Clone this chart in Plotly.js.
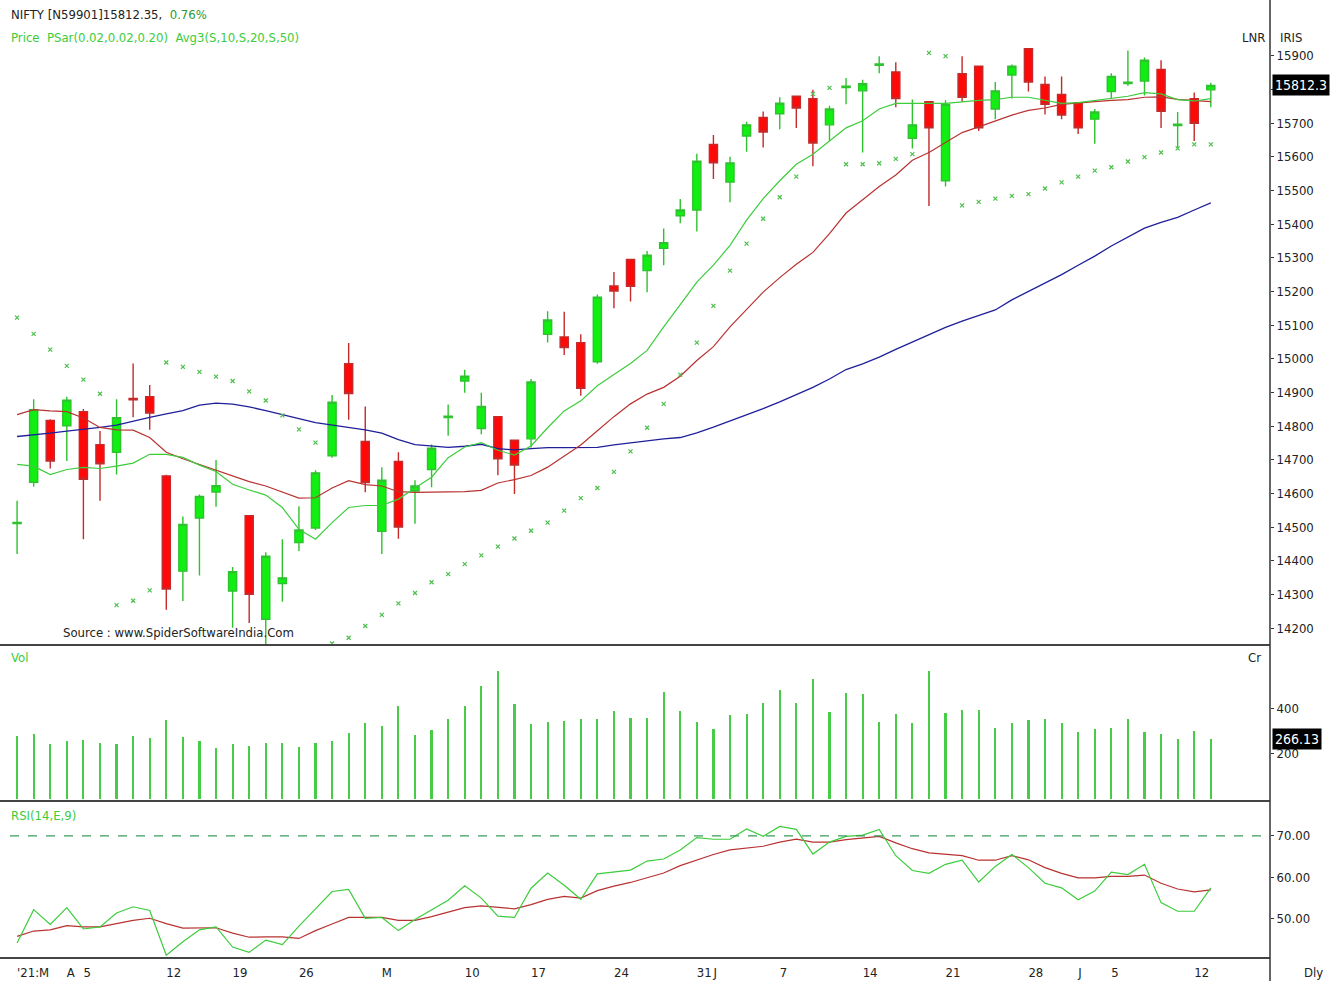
<!DOCTYPE html>
<html>
<head>
<meta charset="utf-8">
<script src="https://cdn.plot.ly/plotly-3.0.1.min.js"></script>
<style>html,body{margin:0;padding:0;background:#fff;}#chart{width:1332px;height:981px;}</style>
</head>
<body>
<div id="chart"></div>
<script>
// ---- data (NIFTY daily, 26 Mar 2021 - 13 Jul 2021) ----
const dates = ["2021-03-26","2021-03-30","2021-03-31","2021-04-01","2021-04-05","2021-04-06","2021-04-07","2021-04-08","2021-04-09",
"2021-04-12","2021-04-13","2021-04-15","2021-04-16","2021-04-19","2021-04-20","2021-04-22","2021-04-23","2021-04-26","2021-04-27",
"2021-04-28","2021-04-29","2021-04-30","2021-05-03","2021-05-04","2021-05-05","2021-05-06","2021-05-07","2021-05-10","2021-05-11",
"2021-05-12","2021-05-14","2021-05-17","2021-05-18","2021-05-19","2021-05-20","2021-05-21","2021-05-24","2021-05-25","2021-05-26",
"2021-05-27","2021-05-28","2021-05-31","2021-06-01","2021-06-02","2021-06-03","2021-06-04","2021-06-07","2021-06-08","2021-06-09",
"2021-06-10","2021-06-11","2021-06-14","2021-06-15","2021-06-16","2021-06-17","2021-06-18","2021-06-21","2021-06-22","2021-06-23",
"2021-06-24","2021-06-25","2021-06-28","2021-06-29","2021-06-30","2021-07-01","2021-07-02","2021-07-05","2021-07-06","2021-07-07",
"2021-07-08","2021-07-09","2021-07-12","2021-07-13"];

const open = [14510,14633,14817,14801,14843,14745,14722,14882,14887,14652,14369,14527,14604,14310,14534,14226,14332,14454,14497,
14712,14985,14754,14487,14695,14607,14671,14825,14934,14793,14828,14758,14762,15073,15065,15048,14991,15216,15295,15262,15328,
15425,15442,15637,15525,15662,15717,15728,15780,15773,15695,15806,15796,15872,15852,15655,15764,15529,15847,15869,15742,15843,
15921,15815,15785,15761,15712,15794,15818,15825,15860,15693,15773,15799];
const high = [14578,14880,14820,14887,14851,14785,14880,14986,14922,14655,14531,14597,14699,14381,14536,14425,14464,14562,14669,
14892,15047,14858,14678,14722,14639,14745,14864,14967,14899,14830,14760,14940,15141,15140,15073,15191,15258,15297,15320,15387,
15475,15609,15665,15600,15704,15735,15777,15782,15799,15752,15834,15829,15899,15881,15770,15766,15768,15899,15871,15822,15874,
15923,15839,15839,15763,15742,15848,15916,15895,15887,15733,15791,15820];
const low = [14420,14620,14674,14696,14464,14578,14656,14826,14789,14254,14280,14356,14560,14201,14215,14152,14278,14429,14491,
14706,14819,14603,14420,14465,14510,14618,14771,14899,14776,14654,14598,14736,15048,15011,14890,14985,15150,15170,15198,15278,
15403,15378,15534,15465,15615,15628,15682,15686,15572,15647,15756,15613,15848,15747,15625,15454,15512,15764,15677,15712,15773,
15794,15726,15712,15668,15639,15773,15811,15782,15686,15625,15647,15747];
const close = [14514,14849,14696,14877,14642,14688,14825,14878,14839,14316,14508,14591,14623,14367,14300,14413,14349,14491,14661,
14871,14897,14632,14639,14500,14622,14734,14829,14948,14858,14703,14684,14931,15115,15033,14912,15183,15201,15215,15308,15345,
15442,15587,15582,15582,15695,15674,15759,15745,15641,15742,15810,15817,15876,15773,15695,15686,15756,15777,15686,15796,15869,
15822,15756,15724,15686,15733,15839,15822,15887,15735,15697,15700,15812.35];

const sma10 = [14686,14681,14656,14671,14677,14674,14681,14690,14716,14716,14707,14684,14665,14627,14610,14595,14558,14493,14464,
14513,14558,14564,14564,14583,14616,14648,14706,14738,14751,14728,14714,14741,14795,14845,14875,14920,14953,14986,15025,15095,
15161,15228,15278,15337,15412,15476,15529,15578,15608,15647,15686,15707,15742,15759,15759,15759,15759,15763,15768,15770,15777,
15777,15768,15759,15761,15768,15773,15780,15791,15787,15770,15766,15773];
const sma20 = [14834,14849,14845,14843,14824,14796,14789,14788,14766,14722,14703,14686,14671,14652,14635,14622,14603,14586,14587,
14616,14638,14626,14622,14605,14603,14603,14603,14605,14609,14631,14641,14653,14678,14711,14744,14786,14828,14866,14895,14915,
14948,14995,15036,15095,15145,15198,15241,15281,15316,15372,15433,15473,15512,15546,15590,15613,15642,15672,15689,15707,15724,
15738,15745,15756,15761,15764,15768,15770,15777,15778,15771,15768,15764];
const sma50 = [14769,14773,14779,14785,14790,14796,14803,14815,14826,14836,14846,14862,14868,14865,14857,14846,14833,14822,14810,
14803,14796,14789,14779,14760,14745,14740,14737,14740,14746,14733,14729,14733,14736,14736,14736,14737,14744,14750,14757,14762,
14766,14780,14797,14815,14832,14852,14872,14894,14915,14940,14968,14985,15005,15028,15050,15072,15093,15112,15128,15145,15175,
15200,15224,15250,15278,15305,15335,15362,15388,15405,15420,15442,15463];
const psar = [15122,15074,15027,14979,14938,14896,14268,14281,14312,14989,14976,14961,14947,14934,14903,14876,14832,14790,14751,
14154,14171,14206,14239,14273,14304,14336,14360,14390,14416,14442,14466,14489,14513,14549,14586,14616,14664,14725,14795,14866,
14953,15048,15157,15262,15342,15416,15480,15541,15787,15805,15578,15578,15581,15594,15608,15909,15899,15456,15466,15476,15484,
15489,15506,15524,15541,15559,15569,15586,15599,15613,15625,15637,15637];

const volume = [280,286,243,256,262,249,243,280,268,350,276,256,224,243,236,249,249,230,249,256,293,336,324,413,283,306,356,412,
501,568,422,332,340,345,352,352,390,357,357,472,390,340,308,370,377,426,484,426,530,387,470,465,342,374,335,569,379,395,395,314,
335,348,355,335,296,308,314,355,296,288,264,301,266.13];

const rsi = [44.0,52.1,48.5,52.6,47.4,47.9,51.3,52.8,51.9,41.0,44.3,47.2,47.9,43.0,41.7,44.7,43.6,48.1,52.3,56.5,57.0,50.0,50.2,
47.0,49.7,52.1,54.4,57.9,54.9,50.5,50.2,57.3,61.0,58.0,54.6,60.8,61.2,61.7,63.9,64.4,66.6,69.6,69.2,69.2,71.7,69.9,72.3,71.6,
65.6,68.5,69.9,70.2,71.6,65.2,61.6,60.9,63.1,64.1,58.8,62.6,65.5,62.3,58.5,57.4,54.5,56.6,61.2,60.6,63.1,53.8,51.7,51.7,57.4];
const rsiSignal = [45.6,46.9,47.2,48.2,47.9,47.9,48.7,49.5,50.0,48.7,47.6,47.6,47.7,46.4,45.4,45.5,45.5,45.1,47.0,48.6,50.2,50.2,
50.2,49.5,49.5,50.4,51.5,52.6,53.0,52.6,52.3,53.3,54.6,55.3,54.9,56.7,57.8,58.7,59.8,61.0,62.8,64.2,65.5,66.6,67.0,67.5,68.5,
69.2,68.5,68.5,69.1,69.5,69.9,68.3,66.9,65.9,65.6,65.2,64.1,64.1,65.2,64.2,62.3,60.9,59.8,59.8,60.2,60.2,60.5,58.5,57.1,56.4,56.9];

const xTickDates = ["2021-03-26","2021-04-01","2021-04-05","2021-04-12","2021-04-19","2021-04-26","2021-05-03","2021-05-10",
"2021-05-17","2021-05-24","2021-05-31","2021-06-01","2021-06-07","2021-06-14","2021-06-21","2021-06-28","2021-07-01","2021-07-05","2021-07-12"];
const xTickText = ["'21:M","A","5","12","19","26","M","10","17","24","31","J","7","14","21","28","J","5","12"];
const priceTicks = [14200,14300,14400,14500,14600,14700,14800,14900,15000,15100,15200,15300,15400,15500,15600,15700,15800,15900];
const priceTickText = ["14200","14300","14400","14500","14600","14700","14800","14900","15000","15100","15200","15300","15400","15500","15600","15700","","15900"];
const volTicks = [200,400];
const rsiTicks = [50,60,70];

// ---- drawing ----
const FONT = "DejaVu Sans Condensed, Liberation Sans Narrow, sans-serif";
const FS = 13;
const W = 1270, H = 958; // plot area in px
const px = v => v / W;
const py = v => (H - v) / H;

const traces = [
  {type:'candlestick', x:dates, open:open, high:high, low:low, close:close, xaxis:'x', yaxis:'y',
   increasing:{line:{color:'#2ec22e', width:1.4}, fillcolor:'#11ee11'},
   decreasing:{line:{color:'#c42a2a', width:1.4}, fillcolor:'#ff0808'},
   whiskerwidth:0, hoverinfo:'skip'},
  {type:'scatter', mode:'lines', x:dates, y:sma50, line:{color:'#1f1f9a', width:1.3}, yaxis:'y', hoverinfo:'skip'},
  {type:'scatter', mode:'lines', x:dates, y:sma20, line:{color:'#b83232', width:1.2}, yaxis:'y', hoverinfo:'skip'},
  {type:'scatter', mode:'lines', x:dates, y:sma10, line:{color:'#3ccc3c', width:1.2}, yaxis:'y', hoverinfo:'skip'},
  {type:'scatter', mode:'markers', x:dates, y:psar, marker:{symbol:'x-thin-open', size:4, line:{color:'#4cbf4c', width:1.2}, color:'#4cbf4c'}, yaxis:'y', hoverinfo:'skip'},
  {type:'bar', x:dates, y:volume, width:0.13, marker:{color:'#46cc46', line:{width:0}}, yaxis:'y2', hoverinfo:'skip'},
  {type:'scatter', mode:'lines', x:dates, y:rsiSignal, line:{color:'#b83232', width:1.2}, yaxis:'y3', hoverinfo:'skip'},
  {type:'scatter', mode:'lines', x:dates, y:rsi, line:{color:'#3ccc3c', width:1.2}, yaxis:'y3', hoverinfo:'skip'}
];

const yCommon = {side:'right', showgrid:false, zeroline:false, showline:false, ticks:'outside', ticklen:3, tickcolor:'#333',
  tickfont:{family:FONT, size:FS, color:'#222'}, fixedrange:true, anchor:'x', tickangle:0};

const sepLine = y => ({type:'line', xref:'paper', yref:'paper', x0:0, x1:1, y0:y, y1:y, line:{color:'#444', width:2}});

const layout = {
  width:1332, height:981,
  margin:{l:0, r:62, t:0, b:23, pad:0},
  paper_bgcolor:'#fff', plot_bgcolor:'#fff',
  showlegend:false, hovermode:false, bargap:0,
  xaxis:{type:'category', range:[-1.03, 75.57], anchor:'y3', showgrid:false, zeroline:false, showline:false,
    tickmode:'array', tickvals:xTickDates, ticktext:xTickText, ticks:'', ticklabelposition:'outside right', tickangle:0,
    ticklabelstandoff:5,
    tickfont:{family:FONT, size:FS, color:'#222'}, rangeslider:{visible:false}, fixedrange:true, automargin:false},
  yaxis:Object.assign({}, yCommon, {domain:[py(645), 1], range:[14149.5, 16066], tickmode:'array', tickvals:priceTicks, ticktext:priceTickText}),
  yaxis2:Object.assign({}, yCommon, {domain:[py(801), py(646)], range:[-10, 678], tickmode:'array', tickvals:volTicks, tickformat:'d'}),
  yaxis3:Object.assign({}, yCommon, {domain:[0, py(803)], range:[40.35, 78], tickmode:'array', tickvals:rsiTicks, tickformat:'.2f'}),
  shapes:[
    sepLine(py(645)), sepLine(py(801)), sepLine(0),
    {type:'line', xref:'paper', yref:'paper', x0:1, x1:1, y0:py(981), y1:1, line:{color:'#333', width:1.5}},
    {type:'line', xref:'paper', yref:'y3', x0:px(10), x1:1, y0:70, y1:70, line:{color:'#3a9a5a', width:1.2, dash:'dash'}}
  ],
  annotations:[
    {xref:'paper', yref:'paper', x:px(9), y:py(15), xanchor:'left', yanchor:'middle', showarrow:false,
     text:"NIFTY [N59901]15812.35,  <span style='color:#2e9a2e'>0.76%</span>", font:{family:FONT, size:FS, color:'#222'}},
    {xref:'paper', yref:'paper', x:px(9), y:py(37), xanchor:'left', yanchor:'middle', showarrow:false,
     text:"Price  PSar(0.02,0.02,0.20)  Avg3(S,10,S,20,S,50)", font:{family:FONT, size:FS, color:'#3ccc3c'}},
    {xref:'paper', yref:'paper', x:px(1267), y:py(37), xanchor:'right', yanchor:'middle', showarrow:false,
     text:"LNR", font:{family:FONT, size:FS, color:'#222'}},
    {xref:'paper', yref:'paper', x:px(1278), y:py(37), xanchor:'left', yanchor:'middle', showarrow:false,
     text:"IRIS", font:{family:FONT, size:FS, color:'#222'}},
    {xref:'paper', yref:'paper', x:px(61), y:py(632), xanchor:'left', yanchor:'middle', showarrow:false,
     text:"Source : www.SpiderSoftwareIndia.Com", font:{family:FONT, size:FS, color:'#222'}},
    {xref:'paper', yref:'paper', x:px(9), y:py(657), xanchor:'left', yanchor:'middle', showarrow:false,
     text:"Vol", font:{family:FONT, size:FS, color:'#3ccc3c'}},
    {xref:'paper', yref:'paper', x:px(1263), y:py(657), xanchor:'right', yanchor:'middle', showarrow:false,
     text:"Cr", font:{family:FONT, size:FS, color:'#222'}},
    {xref:'paper', yref:'paper', x:px(9), y:py(815), xanchor:'left', yanchor:'middle', showarrow:false,
     text:"RSI(14,E,9)", font:{family:FONT, size:FS, color:'#3ccc3c'}},
    {xref:'paper', yref:'paper', x:px(1302), y:py(972), xanchor:'left', yanchor:'middle', showarrow:false,
     text:"Dly", font:{family:FONT, size:FS, color:'#222'}},
    {xref:'paper', yref:'y', x:px(1272), y:close[close.length-1], xanchor:'left', yanchor:'middle', showarrow:false,
     text:"15812.3", bgcolor:'#000', borderpad:2, font:{family:FONT, size:FS+1, color:'#fff'}},
    {xref:'paper', yref:'y2', x:px(1272), y:volume[volume.length-1], xanchor:'left', yanchor:'middle', showarrow:false,
     text:"266.13", bgcolor:'#000', borderpad:2, font:{family:FONT, size:FS+1, color:'#fff'}}
  ]
};

Plotly.newPlot('chart', traces, layout, {staticPlot:true, displayModeBar:false});
</script>
</body>
</html>
